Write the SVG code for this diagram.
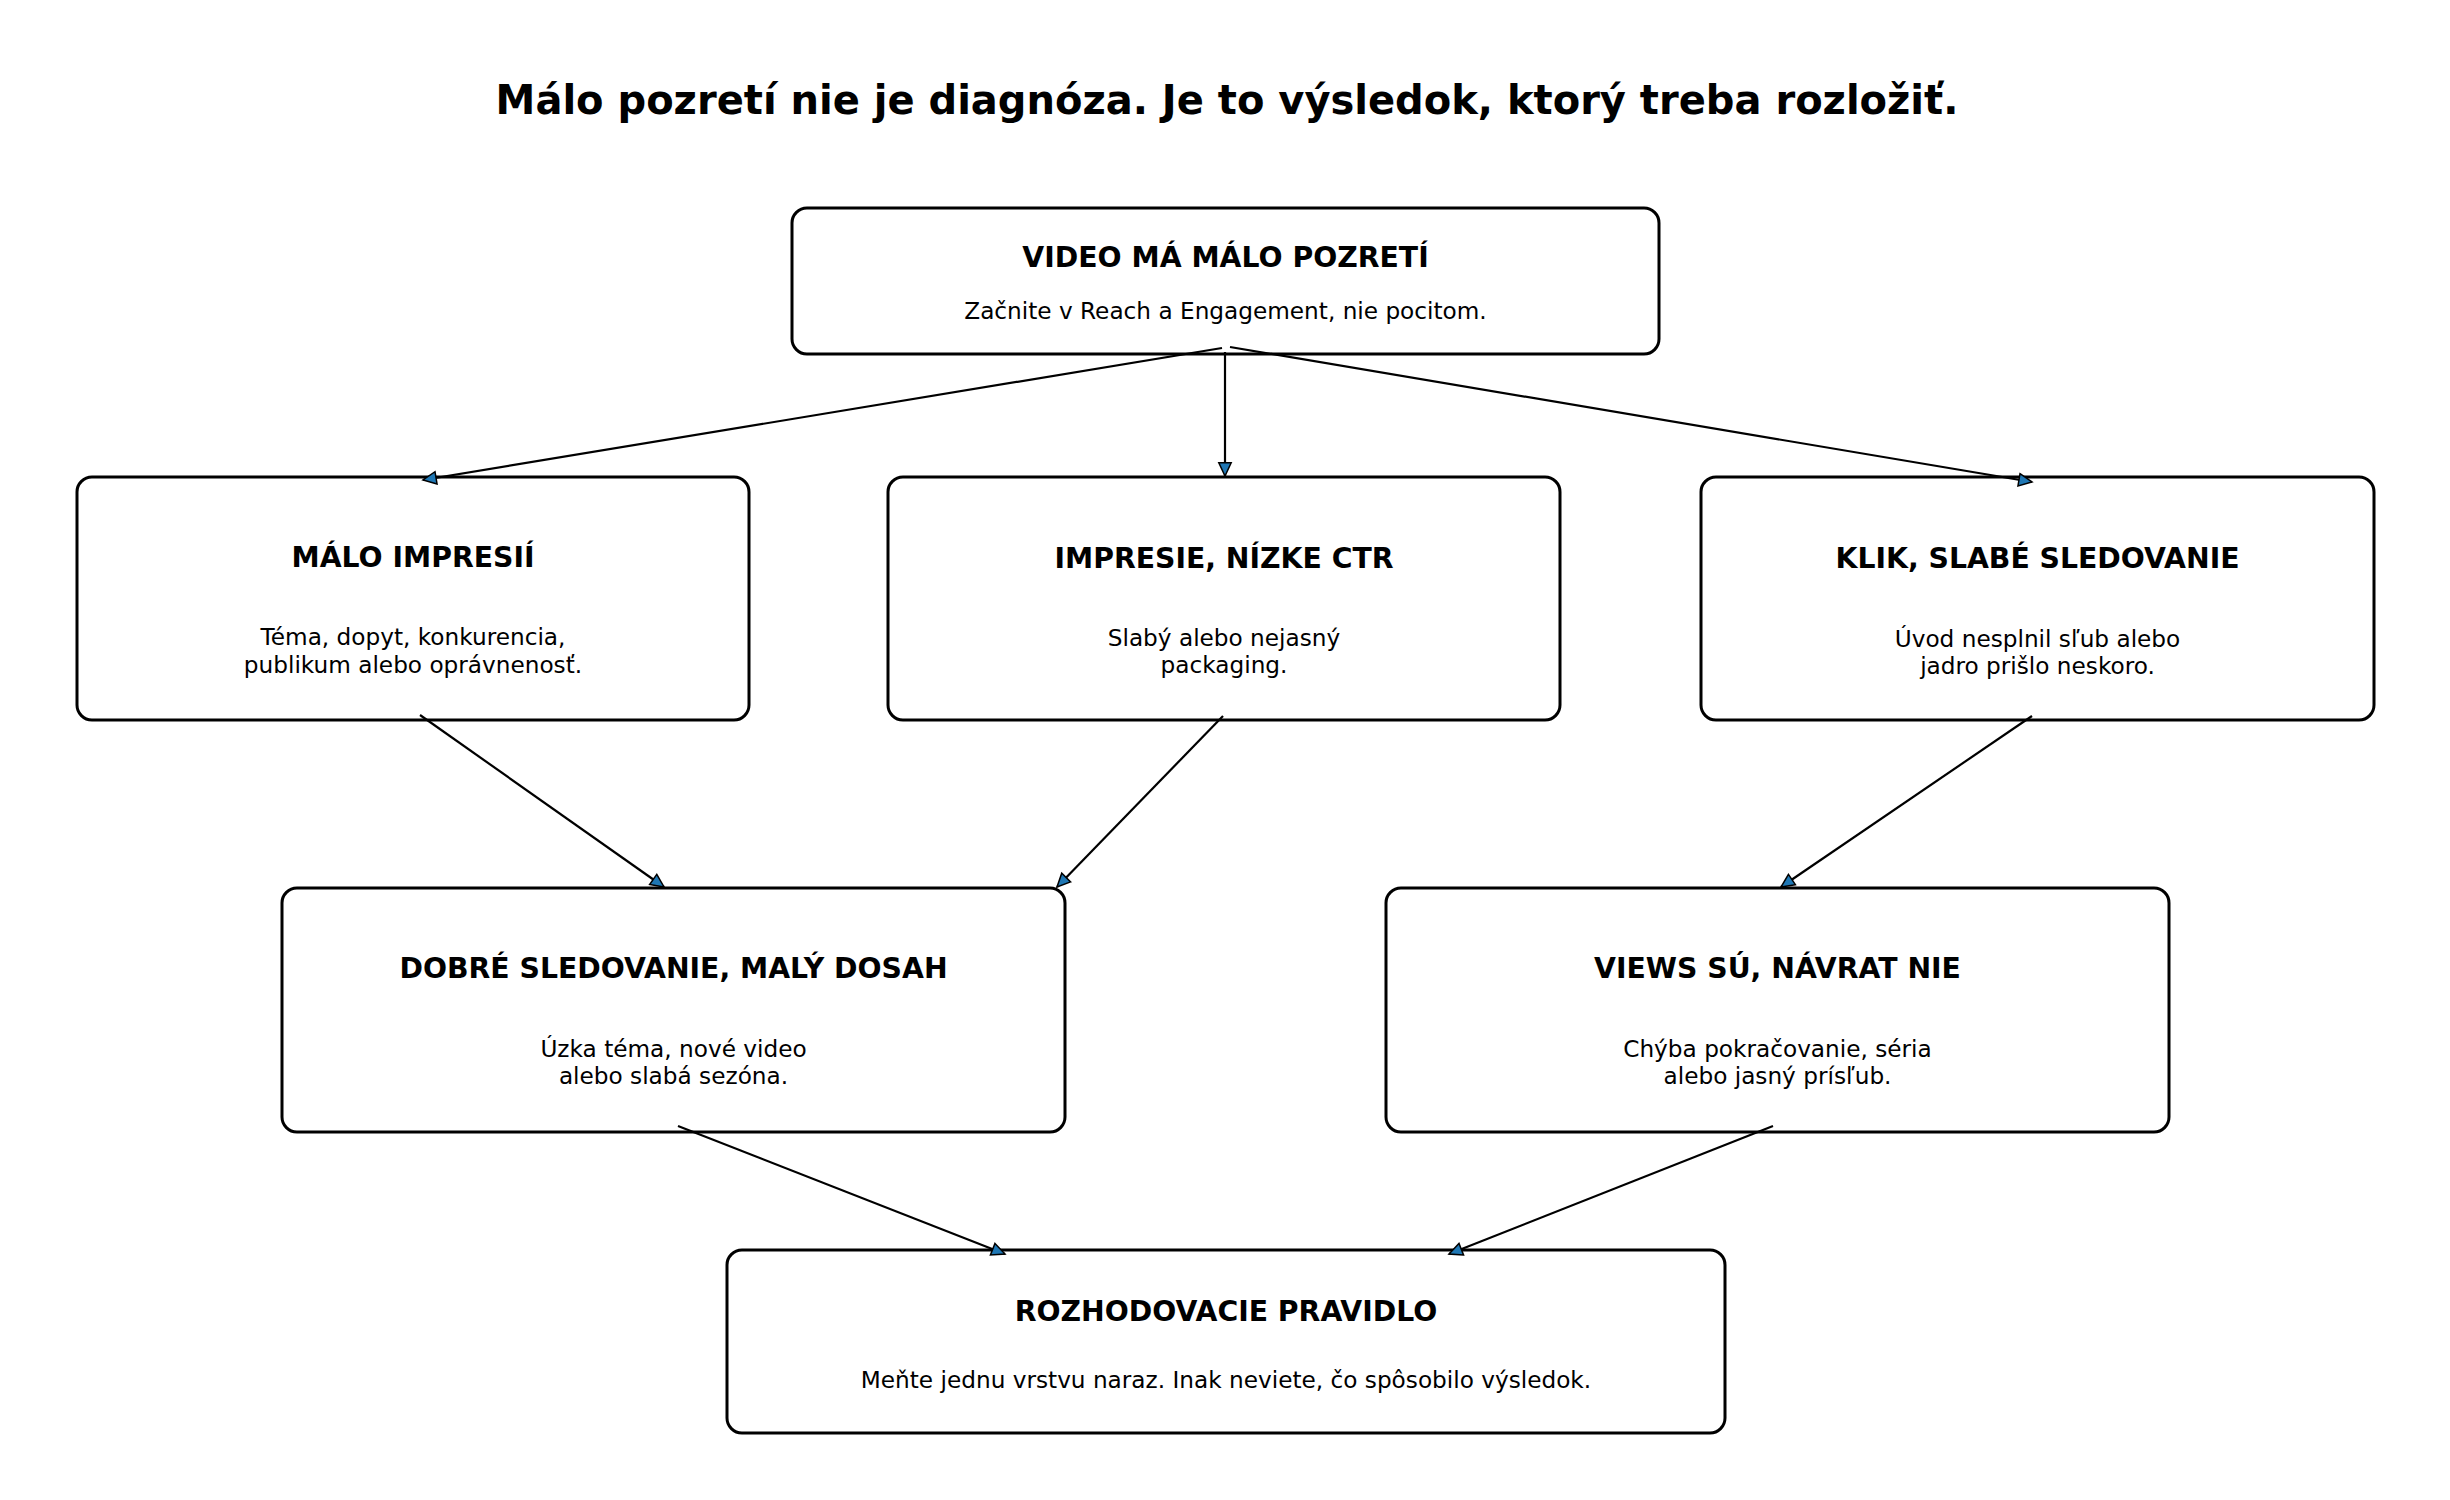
<svg xmlns="http://www.w3.org/2000/svg" width="2450" height="1500" viewBox="0 0 2450 1500">
<style>
  .box { fill: #ffffff; stroke: #000000; stroke-width: 3; }
  .ttl { font-family: "DejaVu Sans", sans-serif; font-weight: bold; font-size: 28.3px; fill: #000; text-anchor: middle; }
  .body { font-family: "DejaVu Sans", sans-serif; font-size: 23.2px; fill: #000; text-anchor: middle; }
  .head { font-family: "DejaVu Sans", sans-serif; font-weight: bold; font-size: 40px; fill: #000; text-anchor: middle; }
  .conn { stroke: #000; stroke-width: 2.2; fill: none; marker-end: url(#arr); }
</style>
<defs>
  <marker id="arr" viewBox="0 0 15 14" refX="14" refY="7" markerWidth="15" markerHeight="14" markerUnits="userSpaceOnUse" orient="auto" overflow="visible">
    <path d="M0.8,0.8 L14,7 L0.8,13.2 Z" fill="#1f77b4" stroke="#000" stroke-width="1.5" stroke-linejoin="miter"/>
  </marker>
</defs>
<rect width="2450" height="1500" fill="#ffffff"/>
<text class="head" x="1227" y="114">Málo pozretí nie je diagnóza. Je to výsledok, ktorý treba rozložiť.</text>

<g id="n-top">
  <rect class="box" x="792" y="208" width="867" height="146" rx="15"/>
  <text class="ttl" x="1225.5" y="267">VIDEO MÁ MÁLO POZRETÍ</text>
  <text class="body" x="1225.5" y="319">Začnite v Reach a Engagement, nie pocitom.</text>
</g>
<g id="n-impresie">
  <rect class="box" x="77" y="477" width="672" height="243" rx="15"/>
  <text class="ttl" x="413" y="567">MÁLO IMPRESIÍ</text>
  <text class="body" x="413" y="645">Téma, dopyt, konkurencia,</text>
  <text class="body" x="413" y="672.5">publikum alebo oprávnenosť.</text>
</g>
<g id="n-ctr">
  <rect class="box" x="888" y="477" width="672" height="243" rx="15"/>
  <text class="ttl" x="1224" y="568">IMPRESIE, NÍZKE CTR</text>
  <text class="body" x="1224" y="645.5">Slabý alebo nejasný</text>
  <text class="body" x="1224" y="673">packaging.</text>
</g>
<g id="n-klik">
  <rect class="box" x="1701" y="477" width="673" height="243" rx="15"/>
  <text class="ttl" x="2037.5" y="568">KLIK, SLABÉ SLEDOVANIE</text>
  <text class="body" x="2037.5" y="646.5">Úvod nesplnil sľub alebo</text>
  <text class="body" x="2037.5" y="674">jadro prišlo neskoro.</text>
</g>
<g id="n-dosah">
  <rect class="box" x="282" y="888" width="783" height="244" rx="15"/>
  <text class="ttl" x="673.5" y="978">DOBRÉ SLEDOVANIE, MALÝ DOSAH</text>
  <text class="body" x="673.5" y="1056.5">Úzka téma, nové video</text>
  <text class="body" x="673.5" y="1084">alebo slabá sezóna.</text>
</g>
<g id="n-views">
  <rect class="box" x="1386" y="888" width="783" height="244" rx="15"/>
  <text class="ttl" x="1777.5" y="978">VIEWS SÚ, NÁVRAT NIE</text>
  <text class="body" x="1777.5" y="1056.5">Chýba pokračovanie, séria</text>
  <text class="body" x="1777.5" y="1084">alebo jasný prísľub.</text>
</g>
<g id="n-pravidlo">
  <rect class="box" x="727" y="1250" width="998" height="183" rx="15"/>
  <text class="ttl" x="1226" y="1321">ROZHODOVACIE PRAVIDLO</text>
  <text class="body" x="1226" y="1388">Meňte jednu vrstvu naraz. Inak neviete, čo spôsobilo výsledok.</text>
</g>

<g id="connectors">
  <line class="conn" x1="1222" y1="348" x2="423" y2="480"/>
  <line class="conn" x1="1225" y1="352" x2="1225" y2="476"/>
  <line class="conn" x1="1230" y1="347" x2="2032" y2="482"/>
  <line class="conn" x1="420" y1="715" x2="664" y2="887"/>
  <line class="conn" x1="1223" y1="716" x2="1057" y2="887"/>
  <line class="conn" x1="2032" y1="716" x2="1781" y2="887"/>
  <line class="conn" x1="678" y1="1126" x2="1005" y2="1254"/>
  <line class="conn" x1="1773" y1="1126" x2="1449" y2="1254"/>
</g>
</svg>
